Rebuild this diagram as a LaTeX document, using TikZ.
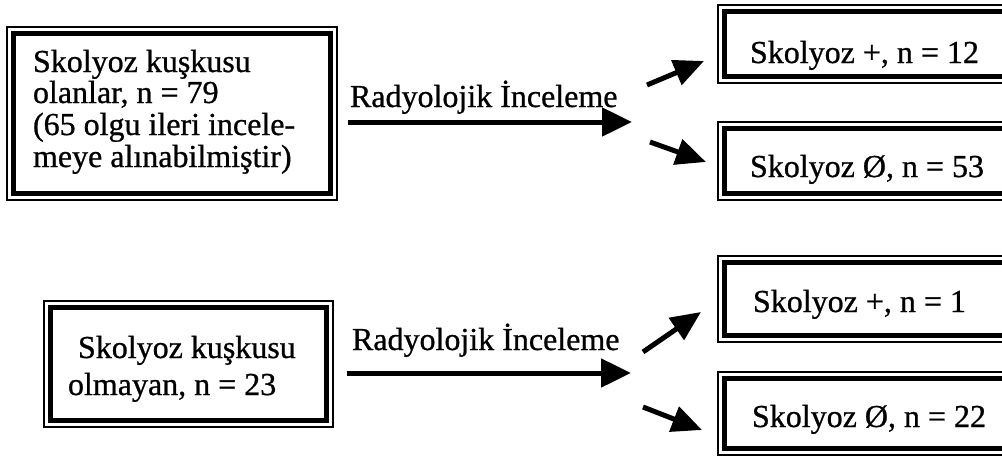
\documentclass[tikz,border=0pt]{standalone}
\usepackage{fontspec}
\setmainfont[FakeBold=0.8]{Liberation Serif}
\usetikzlibrary{arrows.meta}
\begin{document}
\begin{tikzpicture}[x=1pt,y=-1pt,
  frame/.style={draw, line width=4.5pt, inner sep=0pt, outer sep=0pt},
  outerframe/.style={line width=1.4pt},
  txt/.style={anchor=base west, inner sep=0pt, outer sep=0pt, font=\fontsize{32}{32}\selectfont},
  bigarrow/.style={line width=5pt, -{Triangle[length=30pt,width=28pt]}},
  smallarrow/.style={line width=5pt, -{Triangle[length=30pt,width=26pt]}}]
\useasboundingbox (0,0) rectangle (1002,463);
\clip (0,0) rectangle (1002,463);

% frames (inner thick line); outer thin line drawn below
\node[frame, minimum width=317pt, minimum height=160pt] (boxA) at (172,113.5) {};
\node[frame, minimum width=276pt, minimum height=113pt] (boxF) at (188.5,364) {};
\node[frame, minimum width=299pt, minimum height=65pt] (boxB) at (874,44) {};
\node[frame, minimum width=299pt, minimum height=65pt] (boxC) at (874,161) {};
\node[frame, minimum width=299pt, minimum height=73pt] (boxD) at (874,299) {};
\node[frame, minimum width=299pt, minimum height=70pt] (boxE) at (874,413.5) {};
\foreach \b in {boxA,boxF,boxB,boxC,boxD,boxE}
  \draw[outerframe] ([shift={(-6.5pt,6.5pt)}]\b.north west) rectangle ([shift={(6.5pt,-6.5pt)}]\b.south east);

% texts
\node[txt] (tA1) at (33,72) {Skolyoz kuşkusu};
\node[txt] (tA2) at (33,103) {olanlar, n = 79};
\node[txt] (tA3) at (33,135) {(65 olgu ileri incele-};
\node[txt] (tA4) at (33,167) {meye alınabilmiştir)};
\node[txt] (tF1) at (78,358) {Skolyoz kuşkusu};
\node[txt] (tF2) at (68,395) {olmayan, n = 23};
\node[txt] (tB) at (750,63) {Skolyoz +, n = 12};
\node[txt] (tC) at (750,177) {Skolyoz Ø, n = 53};
\node[txt] (tD) at (753,312) {Skolyoz +, n = 1};
\node[txt] (tE) at (752,427) {Skolyoz Ø, n = 22};
\node[txt] (l1) at (350,107) {Radyolojik İnceleme};
\node[txt] (l2) at (352,350) {Radyolojik İnceleme};

% connector end points
\coordinate (m1s) at (348,122);
\coordinate (m1e) at (632,122);
\coordinate (m2s) at (347,373);
\coordinate (m2e) at (631,373);
\coordinate (u1s) at (647,85);
\coordinate (u1e) at (704,61);
\coordinate (d1s) at (650,142);
\coordinate (d1e) at (706,162);
\coordinate (u2s) at (643,352);
\coordinate (u2e) at (701,312);
\coordinate (d2s) at (643,407);
\coordinate (d2e) at (702,430);

\draw[bigarrow] (m1s) -- (m1e);
\draw[bigarrow] (m2s) -- (m2e);
\draw[smallarrow] (u1s) -- (u1e);
\draw[smallarrow] (d1s) -- (d1e);
\draw[smallarrow] (u2s) -- (u2e);
\draw[smallarrow] (d2s) -- (d2e);
\end{tikzpicture}
\end{document}
